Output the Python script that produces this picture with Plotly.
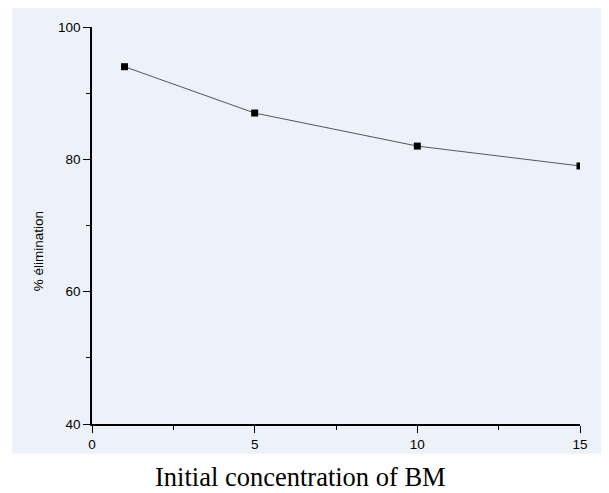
import plotly.graph_objects as go

concentration = [1, 5, 10, 15]
elimination = [94, 87, 82, 79]
x_ticks = [0, 5, 10, 15]
y_ticks = [40, 60, 80, 100]

OFF = 8  # default page body margin
W, H = 609 - OFF, 493 - OFF
L, R, T, B = 92 - OFF, 580 - OFF, 25 - OFF, 424 - OFF
pw, ph = R - L, B - T

fig = go.Figure()
fig.add_trace(go.Scatter(
    x=concentration, y=elimination, mode="lines+markers",
    line=dict(color="#555555", width=1),
    marker=dict(symbol="square", size=7, color="black"),
    cliponaxis=True, showlegend=False,
))

axis_common = dict(
    showgrid=False, zeroline=False, showline=True, linecolor="black", linewidth=1.5,
    ticks="outside", ticklen=7, tickwidth=1.2, tickcolor="black",
    tickfont=dict(family="Liberation Sans, Arial", size=13.5, color="black"),
)

fig.update_xaxes(range=[0, 15], tickvals=x_ticks, ticktext=[str(v) for v in x_ticks],
                 minor=dict(tickvals=[2.5, 7.5, 12.5], ticks="outside", ticklen=4, tickcolor="black", tickwidth=1.2),
                 **axis_common)
fig.update_yaxes(range=[40, 100], tickvals=y_ticks, ticktext=[str(v) for v in y_ticks],
                 minor=dict(tickvals=[50, 70, 90], ticks="outside", ticklen=4, tickcolor="black", tickwidth=1.2),
                 **axis_common)

fig.add_shape(type="rect", xref="paper", yref="paper", layer="below",
              x0=(12 - OFF - L) / pw, x1=(W + 5 - L) / pw,
              y0=(B - (454 - OFF)) / ph, y1=(B + 5) / ph,
              fillcolor="#EDF2FA", line=dict(width=0))

fig.add_annotation(text="% élimination", xref="paper", yref="paper",
                   x=(38.5 - OFF - L) / pw, y=(B - (251 - OFF)) / ph, textangle=-90,
                   showarrow=False, xanchor="center", yanchor="middle",
                   font=dict(family="Liberation Sans, Arial", size=13.5, color="black"))

fig.add_annotation(text="Initial concentration of BM", xref="paper", yref="paper",
                   x=(300 - OFF - L) / pw, y=(B - (477 - OFF)) / ph, showarrow=False,
                   xanchor="center", yanchor="middle",
                   font=dict(family="Liberation Serif, Times New Roman", size=26.5, color="black"))

fig.update_layout(
    width=W, height=H, margin=dict(l=L, r=W - R, t=T, b=H - B),
    paper_bgcolor="white", plot_bgcolor="rgba(0,0,0,0)",
)
fig.write_html("out.html")
